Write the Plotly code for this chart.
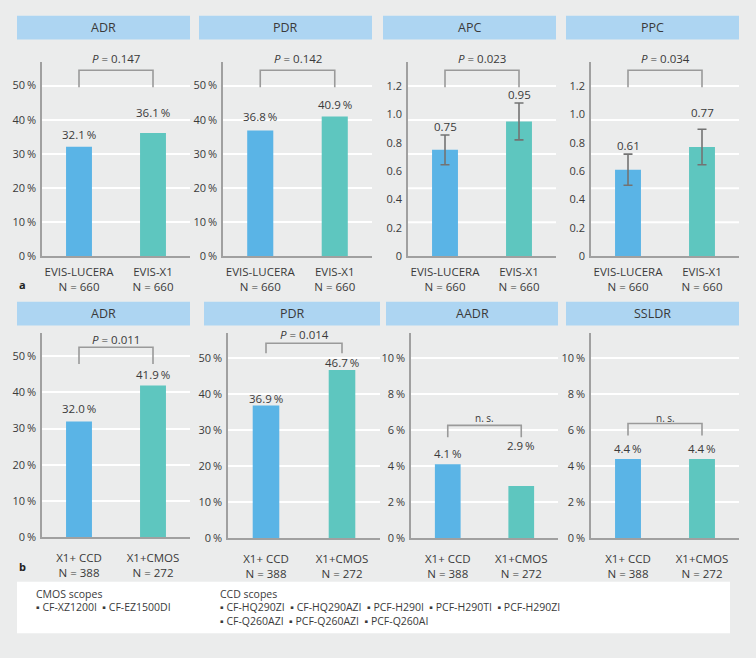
import plotly.graph_objects as go

W, H = 756, 658
BG = "#EBECEC"
BLUE = "#5AB4E6"
TEAL = "#5EC6BF"
TITLE_BG = "#ADD5F2"
AXIS = "#A0A0A0"
TXT = "#3A3A3A"
FONT = "Open Sans"

# ---------------- data ----------------
titles_a = ["ADR", "PDR", "APC", "PPC"]
groups_a = ["EVIS-LUCERA<br>N = 660", "EVIS-X1<br>N = 660"]
adr_a = [32.1, 36.1]
pdr_a = [36.8, 40.9]
apc = [0.75, 0.95]
apc_err = [0.105, 0.13]
ppc = [0.61, 0.77]
ppc_err = [0.11, 0.125]
p_a = ["<i>P</i> = 0.147", "<i>P</i> = 0.142", "<i>P</i> = 0.023", "<i>P</i> = 0.034"]

titles_b = ["ADR", "PDR", "AADR", "SSLDR"]
groups_b = ["X1+ CCD<br>N = 388", "X1+CMOS<br>N = 272"]
adr_b = [32.0, 41.9]
pdr_b = [36.9, 46.7]
aadr = [4.1, 2.9]
ssldr = [4.4, 4.4]
p_b = ["<i>P</i> = 0.011", "<i>P</i> = 0.014", "n. s.", "n. s."]

pct_ticks = [0, 10, 20, 30, 40, 50]
small_pct_ticks = [0, 2, 4, 6, 8, 10]
count_ticks = [0, 0.2, 0.4, 0.6, 0.8, 1.0, 1.2]
count_ticklabels = ["0", "0.2", "0.4", "0.6", "0.8", "1.0", "1.2"]
count_grid = [0.24, 0.48, 0.72, 0.96, 1.2]

cmos_title = "CMOS scopes"
cmos_scopes = ["CF-XZ1200I", "CF-EZ1500DI"]
ccd_title = "CCD scopes"
ccd_scopes_1 = ["CF-HQ290ZI", "CF-HQ290AZI", "PCF-H290I", "PCF-H290TI", "PCF-H290ZI"]
ccd_scopes_2 = ["CF-Q260AZI", "PCF-Q260AZI", "PCF-Q260AI"]

# ---------------- layout helpers ----------------
def fx(px):
    return px / W

def fy(py):
    return 1 - py / H

def pct(v):
    return f"{v:.1f}\u2009%"

def num(v):
    return f"{v:.2f}"

PCT_TEXT = [f"{t}\u2009%" for t in pct_ticks]
SPCT_TEXT = [f"{t}\u2009%" for t in small_pct_ticks]

# panel specs (layout only)
panels = [
    # top row
    dict(title=titles_a[0], vals=adr_a, err=None, groups=groups_a, fmt=pct,
         xpx=(42, 190), ypx=(63, 259), tb=(17, 190, 16, 40), yr=56.8,
         tickvals=pct_ticks, ticktext=PCT_TEXT, grid=None,
         br=(0.872, 0.959, 1.02), p=p_a[0], off=[12, 20], xstand=4),
    dict(title=titles_a[1], vals=pdr_a, err=None, groups=groups_a, fmt=pct,
         xpx=(223, 372), ypx=(63, 259), tb=(199, 372, 16, 40), yr=56.8,
         tickvals=pct_ticks, ticktext=PCT_TEXT, grid=None,
         br=(0.872, 0.959, 1.02), p=p_a[1], off=[14, 12], xstand=4),
    dict(title=titles_a[2], vals=apc, err=apc_err, groups=groups_a, fmt=num,
         xpx=(408, 556), ypx=(63, 259), tb=(383, 556, 16, 40), yr=1.367,
         tickvals=count_ticks, ticktext=count_ticklabels, grid=count_grid,
         br=(0.872, 0.959, 1.02), p=p_a[2], off=[8, 9], xstand=4),
    dict(title=titles_a[3], vals=ppc, err=ppc_err, groups=groups_a, fmt=num,
         xpx=(591, 739), ypx=(63, 259), tb=(566, 739, 16, 40), yr=1.367,
         tickvals=count_ticks, ticktext=count_ticklabels, grid=count_grid,
         br=(0.872, 0.959, 1.02), p=p_a[3], off=[9, 17], xstand=4),
    # bottom row
    dict(title=titles_b[0], vals=adr_b, err=None, groups=groups_b, fmt=pct,
         xpx=(42, 190), ypx=(337, 543), tb=(17, 190, 305, 329), yr=56.3,
         tickvals=pct_ticks, ticktext=PCT_TEXT, grid=None,
         br=(0.850, 0.932, 0.971), p=p_b[0], off=[13, 11], xstand=9),
    dict(title=titles_b[1], vals=pdr_b, err=None, groups=groups_b, fmt=pct,
         xpx=(228, 380), ypx=(337, 544), tb=(204, 380, 305, 329), yr=56.9,
         tickvals=pct_ticks, ticktext=PCT_TEXT, grid=None,
         br=(0.903, 0.952, 0.995), p=p_b[1], off=[7, 8], xstand=9),
    dict(title=titles_b[2], vals=aadr, err=None, groups=groups_b, fmt=pct,
         xpx=(411, 558), ypx=(337, 544), tb=(386, 558, 305, 329), yr=11.37,
         tickvals=small_pct_ticks, ticktext=SPCT_TEXT, grid=None,
         br=(0.493, 0.551, 0.585), p=p_b[2], off=[11, 40], xstand=9),
    dict(title=titles_b[3], vals=ssldr, err=None, groups=groups_b, fmt=pct,
         xpx=(591, 739), ypx=(337, 544), tb=(566, 739, 305, 329), yr=11.37,
         tickvals=small_pct_ticks, ticktext=SPCT_TEXT, grid=None,
         br=(0.502, 0.560, 0.585), p=p_b[3], off=[10, 10], xstand=9),
]

fig = go.Figure()
shapes = []
annotations = []
layout_axes = {}

for i, pnl in enumerate(panels, start=1):
    sfx = "" if i == 1 else str(i)
    xref = f"x{sfx}"
    yref = f"y{sfx}"
    err = pnl["err"]
    trace = go.Bar(
        x=[0, 1], y=pnl["vals"], width=0.35,
        marker=dict(color=[BLUE, TEAL], line=dict(width=0)),
        xaxis=xref, yaxis=yref, showlegend=False, hoverinfo="skip",
    )
    if err is not None:
        trace.error_y = dict(type="data", array=err, visible=True,
                             color="#737373", thickness=1.6, width=4.5)
    fig.add_trace(trace)

    x0, x1 = pnl["xpx"]
    ytop, ybot = pnl["ypx"]
    layout_axes[f"xaxis{sfx}"] = dict(
        domain=[fx(x0), fx(x1)], anchor=yref, range=[-0.5, 1.5],
        tickmode="array", tickvals=[0, 1], ticktext=pnl["groups"],
        showline=True, linecolor=AXIS, linewidth=1.6, showgrid=False,
        zeroline=False, ticks="", fixedrange=True, ticklabelstandoff=pnl["xstand"],
        tickfont=dict(family=FONT, size=11.5, color=TXT),
    )
    layout_axes[f"yaxis{sfx}"] = dict(
        domain=[fy(ybot), fy(ytop)], anchor=xref, range=[0, pnl["yr"]],
        tickmode="array", tickvals=pnl["tickvals"], ticktext=pnl["ticktext"],
        showline=True, linecolor=AXIS, linewidth=1.6,
        showgrid=pnl["grid"] is None, gridcolor="white", gridwidth=2,
        zeroline=False, ticks="", fixedrange=True, ticklabelstandoff=2,
        tickfont=dict(family=FONT, size=11, color=TXT),
    )
    if pnl["grid"] is not None:
        for g in pnl["grid"]:
            shapes.append(dict(type="line", xref=f"{xref} domain", yref=yref,
                               x0=0, x1=1, y0=g, y1=g, layer="below",
                               line=dict(color="white", width=2)))

    # title bar
    bx0, bx1, by0, by1 = pnl["tb"]
    shapes.append(dict(type="rect", xref="paper", yref="paper",
                       x0=fx(bx0), x1=fx(bx1), y0=fy(by1), y1=fy(by0),
                       fillcolor=TITLE_BG, line=dict(width=0), layer="below"))
    annotations.append(dict(xref="paper", yref="paper", x=fx((bx0 + bx1) / 2),
                            y=fy((by0 + by1) / 2), text=pnl["title"], showarrow=False,
                            xanchor="center", yanchor="middle",
                            font=dict(family=FONT, size=12.5, color=TXT)))

    # significance bracket
    yb, yt, yp = pnl["br"]
    shapes.append(dict(type="path", xref=xref, yref=f"{yref} domain",
                       path=f"M 0,{yb} L 0,{yt} L 1,{yt} L 1,{yb}",
                       line=dict(color="#9A9A9A", width=1.6)))
    is_ns = pnl["p"].startswith("n.")
    annotations.append(dict(xref=xref, yref=f"{yref} domain", x=0.5, y=yp,
                            text=pnl["p"], showarrow=False, xanchor="center",
                            yanchor="middle",
                            font=dict(family=FONT, size=10 if is_ns else 11.5, color=TXT)))

    # value labels
    for j, v in enumerate(pnl["vals"]):
        top = v + (err[j] if err is not None else 0)
        annotations.append(dict(xref=xref, yref=yref, x=j, y=top, yshift=pnl["off"][j],
                                text=pnl["fmt"](v), showarrow=False,
                                xanchor="center", yanchor="middle",
                                font=dict(family=FONT, size=11.5, color=TXT)))

# panel letters
annotations.append(dict(xref="paper", yref="paper", x=fx(17), y=fy(288), text="<b>a</b>",
                        showarrow=False, xanchor="left", yanchor="middle",
                        font=dict(family=FONT, size=11, color="#222")))
annotations.append(dict(xref="paper", yref="paper", x=fx(17), y=fy(573), text="<b>b</b>",
                        showarrow=False, xanchor="left", yanchor="middle",
                        font=dict(family=FONT, size=11, color="#222")))

# scope legend box
shapes.append(dict(type="rect", xref="paper", yref="paper",
                   x0=fx(17), x1=fx(730), y0=fy(640), y1=fy(588),
                   fillcolor="white", line=dict(width=0), layer="below"))
bullet = "\u25aa\u00a0"
gap = "\u00a0\u00a0"
legend_lines = [
    (34, 600, cmos_title),
    (34, 614, gap.join(bullet + s for s in cmos_scopes)),
    (218, 600, ccd_title),
    (218, 614, gap.join(bullet + s for s in ccd_scopes_1)),
    (218, 628, gap.join(bullet + s for s in ccd_scopes_2)),
]
for lx, ly, txt in legend_lines:
    annotations.append(dict(xref="paper", yref="paper", x=fx(lx), y=fy(ly), text=txt,
                            showarrow=False, xanchor="left", yanchor="middle",
                            font=dict(family=FONT, size=10.5, color=TXT)))

fig.update_layout(
    width=W, height=H, autosize=False,
    margin=dict(l=0, r=0, t=0, b=0),
    paper_bgcolor=BG, plot_bgcolor=BG,
    shapes=shapes, annotations=annotations,
    font=dict(family=FONT, color=TXT),
    **layout_axes,
)

fig.write_html("out.html")
